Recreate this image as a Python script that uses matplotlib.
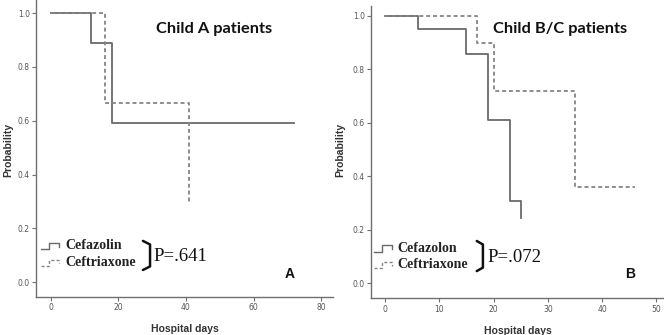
import matplotlib
matplotlib.use("Agg")
import matplotlib.pyplot as plt

# Kaplan-Meier steps
# panel A: Child A patients
a_cefazolin_t = [0, 12, 18, 72]
a_cefazolin_s = [1.0, 0.889, 0.593, 0.593]
a_ceftriaxone_t = [0, 16, 41]
a_ceftriaxone_s = [1.0, 0.667, 0.296]

# panel B: Child B/C patients
b_cefazolon_t = [0, 6, 15, 19, 23, 25]
b_cefazolon_s = [1.0, 0.952, 0.857, 0.612, 0.306, 0.245]
b_ceftriaxone_t = [0, 17, 20, 35, 46]
b_ceftriaxone_s = [1.0, 0.9, 0.72, 0.36, 0.36]

a_xticks = [0, 20, 40, 60, 80]
b_xticks = [0, 10, 20, 30, 40, 50]
yticks = [0.0, 0.2, 0.4, 0.6, 0.8, 1.0]

SOLID = dict(color="#6a6a6a", lw=1.3, linestyle="-")
DASHED = dict(color="#858585", lw=1.3, linestyle=(0, (2.2, 1.6)))


def style_axes(ax, xticks, xlim, ylim):
    ax.set_xlim(*xlim)
    ax.set_ylim(*ylim)
    ax.set_xticks(xticks)
    ax.set_yticks(yticks)
    ax.set_yticklabels([f"{v:.1f}" for v in yticks])
    for side in ("top", "right"):
        ax.spines[side].set_visible(False)
    for side in ("left", "bottom"):
        ax.spines[side].set_color("#707070")
        ax.spines[side].set_linewidth(1.0)
    ax.tick_params(direction="out", length=3, width=0.8, color="#707070",
                   labelsize=5.5, labelcolor="#555555", pad=1.5)
    ax.set_xlabel("Hospital days", fontsize=7.5, fontweight="bold",
                  family="Liberation Sans", color="#333333", labelpad=9)
    ax.set_ylabel("Probability", fontsize=7.5, fontweight="bold",
                  family="Liberation Sans", color="#333333", labelpad=4)


def legend_glyph(ax, x0, x1, y, style):
    # small SPSS-like step symbol
    h = 0.011
    xm = x0 + (x1 - x0) * 0.45
    ax.plot([x0, xm, xm, x1, x1], [y - h, y - h, y + h, y + h, y - 0.002],
            transform=ax.transAxes, clip_on=False, **style)


def draw_legend(ax, names, sym_x, txt_x, rows, br_x, br_y, p_x, p_y, ptext):
    styles = [SOLID, DASHED]
    for name, y, st in zip(names, rows, styles):
        legend_glyph(ax, sym_x[0], sym_x[1], y, dict(st, lw=1.0))
        ax.text(txt_x, y, name, transform=ax.transAxes, ha="left", va="center",
                family="Liberation Serif", fontweight="bold", fontsize=10,
                color="#222222")
    # bracket
    bx0, bx1 = br_x
    yb, yt = br_y
    ax.plot([bx0, bx1, bx1, bx0], [yt, yt - 0.012, yb + 0.012, yb],
            transform=ax.transAxes, color="#111111", lw=1.8,
            solid_capstyle="round", solid_joinstyle="round", clip_on=False)
    ax.text(p_x, p_y, ptext, transform=ax.transAxes, ha="left", va="center",
            family="Liberation Serif", fontsize=13.5, color="#111111")


fig = plt.figure(figsize=(6.64, 3.35), dpi=100)
ax1 = fig.add_axes([0.0542, 0.1143, 0.4473, 0.886])
ax2 = fig.add_axes([0.5587, 0.1096, 0.4413, 0.8725])

# panel A
ax1.step(a_cefazolin_t, a_cefazolin_s, where="post", **SOLID)
ax1.step(a_ceftriaxone_t, a_ceftriaxone_s, where="post", **DASHED)
style_axes(ax1, a_xticks, (-4.35, 83.5), (-0.054, 1.049))
ax1.yaxis.set_label_coords(-0.077, 0.494)
ax1.text(0.598, 0.902, "Child A patients", transform=ax1.transAxes,
         ha="center", va="center", family="Lato", fontweight="bold",
         fontsize=11.8, color="#111111")
ax1.text(0.855, 0.0755, "A", transform=ax1.transAxes, ha="center",
         va="center", family="Liberation Sans", fontweight="bold",
         fontsize=10, color="#111111")
draw_legend(ax1, ["Cefazolin", "Ceftriaxone"], (0.017, 0.077), 0.098,
            [0.171, 0.114], (0.360, 0.384), (0.090, 0.188), 0.397, 0.135,
            "P=.641")

# panel B
ax2.step(b_cefazolon_t, b_cefazolon_s, where="post", **SOLID)
ax2.step(b_ceftriaxone_t, b_ceftriaxone_s, where="post", **DASHED)
style_axes(ax2, b_xticks, (-2.58, 51.4), (-0.056, 1.037))
ax2.yaxis.set_label_coords(-0.089, 0.509)
ax2.text(0.645, 0.921, "Child B/C patients", transform=ax2.transAxes,
         ha="center", va="center", family="Lato", fontweight="bold",
         fontsize=11.8, color="#111111")
ax2.text(0.884, 0.083, "B", transform=ax2.transAxes, ha="center",
         va="center", family="Liberation Sans", fontweight="bold",
         fontsize=10, color="#111111")
draw_legend(ax2, ["Cefazolon", "Ceftriaxone"], (0.010, 0.072), 0.089,
            [0.171, 0.114], (0.361, 0.382), (0.093, 0.196), 0.399, 0.139,
            "P=.072")

fig.savefig("out.png", dpi=100)
